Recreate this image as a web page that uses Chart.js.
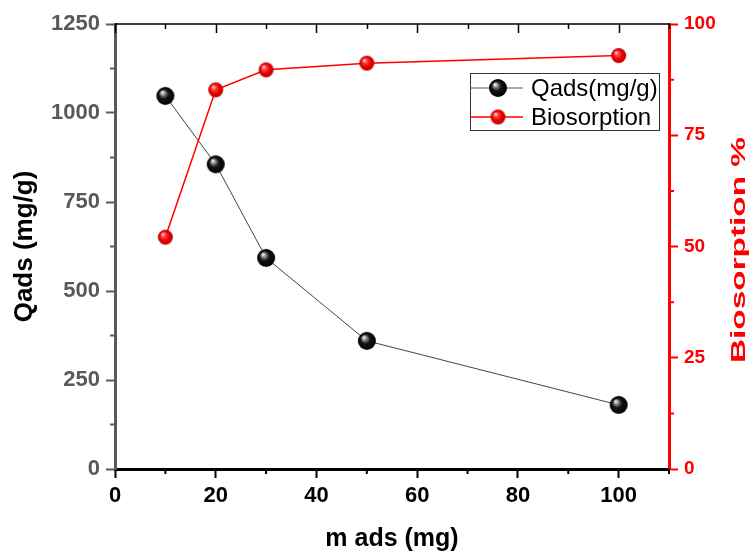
<!DOCTYPE html>
<html>
<head>
<meta charset="utf-8">
<script src="https://cdn.jsdelivr.net/npm/chart.js@4"></script>
<style>
  html, body { margin: 0; padding: 0; background: #fff; }
  #wrap { width: 749px; height: 552px; }
</style>
</head>
<body>
<div id="wrap"><canvas id="chart" width="749" height="552"></canvas></div>
<script>
const massAds = [10, 20, 30, 50, 100];
const qads = [1048, 856, 593, 360, 180];
const biosorption = [52.1, 85.2, 89.7, 91.2, 92.9];

const FONT = 'Liberation Sans, Arial, sans-serif';
const GRAY = '#595959';
const RED = '#ff0000';

// shaded ball used as marker
function sphere(r, stops) {
    const c = document.createElement('canvas');
    c.width = c.height = 2 * r + 2;
    const g = c.getContext('2d');
    const cx = r + 1, cy = r + 1;
    const grad = g.createRadialGradient(cx - r * 0.35, cy - r * 0.4, r * 0.05, cx, cy, r);
    stops.forEach(s => grad.addColorStop(s[0], s[1]));
    g.fillStyle = grad;
    g.beginPath();
    g.arc(cx, cy, r, 0, Math.PI * 2);
    g.fill();
    return c;
}
const blackBall = sphere(9, [[0, '#f4f4f4'], [0.22, '#8a8a8a'], [0.5, '#151515'], [1, '#000']]);
const redBall = sphere(7.5, [[0, '#ffe4e4'], [0.25, '#ff4a4a'], [0.6, '#f00000'], [1, '#b80000']]);

const extras = {
    id: 'extras',
    afterDraw(chart) {
        const { ctx, chartArea: a, scales } = chart;
        const x = scales.x, y = scales.y, y1 = scales.y1;
        ctx.save();
        // top frame with inward ticks
        ctx.strokeStyle = '#000';
        ctx.lineWidth = 1.5;
        ctx.beginPath();
        ctx.moveTo(a.left, a.top);
        ctx.lineTo(a.right, a.top);
        for (let v = 0; v <= 110; v += 10) {
            const px = Math.round(x.getPixelForValue(v)) + 0.5;
            ctx.moveTo(px, a.top);
            ctx.lineTo(px, a.top + (v % 20 === 0 ? 9 : 5));
        }
        ctx.stroke();
        // minor ticks
        ctx.lineWidth = 2;
        ctx.beginPath();
        for (let v = 10; v <= 110; v += 20) {
            const px = x.getPixelForValue(v);
            ctx.moveTo(px, a.bottom);
            ctx.lineTo(px, a.bottom + 5);
        }
        ctx.stroke();
        ctx.strokeStyle = GRAY;
        ctx.beginPath();
        for (let v = 125; v < 1250; v += 250) {
            const py = y.getPixelForValue(v);
            ctx.moveTo(a.left, py);
            ctx.lineTo(a.left - 5, py);
        }
        ctx.stroke();
        ctx.strokeStyle = RED;
        ctx.beginPath();
        for (let v = 12.5; v < 100; v += 25) {
            const py = y1.getPixelForValue(v);
            ctx.moveTo(a.right, py);
            ctx.lineTo(a.right + 5, py);
        }
        ctx.stroke();

        // right title, reads bottom to top, stretched like the original
        ctx.fillStyle = RED;
        ctx.font = 'bold 20px ' + FONT;
        ctx.textAlign = 'center';
        ctx.textBaseline = 'alphabetic';
        const t = 'Biosorption %';
        const w = ctx.measureText(t).width;
        ctx.translate(745, 250);
        ctx.rotate(-Math.PI / 2);
        ctx.scale(226 / w, 1);
        ctx.fillText(t, 0, 0);
        ctx.restore();

        // legend
        ctx.save();
        const lx = 470, ly = 73, lw = 189, lh = 57;
        ctx.fillStyle = '#fff';
        ctx.fillRect(lx, ly, lw, lh);
        ctx.strokeStyle = '#333';
        ctx.lineWidth = 1;
        ctx.strokeRect(lx + 0.5, ly + 0.5, lw, lh);
        const rows = [
            { label: chart.data.datasets[0].label, color: '#555', img: blackBall, yy: 88 },
            { label: chart.data.datasets[1].label, color: RED, img: redBall, yy: 117 }
        ];
        ctx.font = '24px ' + FONT;
        ctx.textBaseline = 'middle';
        ctx.textAlign = 'left';
        rows.forEach(r => {
            ctx.strokeStyle = r.color;
            ctx.lineWidth = r.color === RED ? 1.5 : 1;
            ctx.beginPath();
            ctx.moveTo(lx, r.yy);
            ctx.lineTo(lx + 53, r.yy);
            ctx.stroke();
            ctx.drawImage(r.img, lx + 28 - r.img.width / 2, r.yy - r.img.height / 2);
            ctx.fillStyle = '#000';
            ctx.fillText(r.label, lx + 61, r.yy + 1);
        });
        ctx.restore();
    }
};

const plain = v => String(v);

new Chart(document.getElementById('chart'), {
    type: 'line',
    data: {
        datasets: [
            {
                label: 'Qads(mg/g)',
                data: massAds.map((m, i) => ({ x: m, y: qads[i] })),
                yAxisID: 'y',
                borderColor: '#444',
                borderWidth: 1,
                pointStyle: blackBall,
                order: 1
            },
            {
                label: 'Biosorption',
                data: massAds.map((m, i) => ({ x: m, y: biosorption[i] })),
                yAxisID: 'y1',
                borderColor: RED,
                borderWidth: 1.5,
                pointStyle: redBall,
                order: 0
            }
        ]
    },
    options: {
        responsive: false,
        animation: false,
        layout: { padding: { top: 24, right: 0, left: 0, bottom: 0 } },
        plugins: { legend: { display: false }, tooltip: { enabled: false } },
        scales: {
            x: {
                type: 'linear',
                min: 0,
                max: 110,
                afterFit: s => { s.height = 83; },
                ticks: { stepSize: 20, includeBounds: false, color: '#000', padding: 5,
                    callback: plain,
                    font: { family: FONT, size: 22, weight: 'bold' }, maxRotation: 0 },
                grid: { drawOnChartArea: false, tickLength: 9, tickWidth: 2, tickColor: '#000' },
                border: { color: '#000', width: 3 },
                title: { display: true, text: 'm ads (mg)', color: '#000',
                    font: { family: FONT, size: 25, weight: 'bold', lineHeight: 1 },
                    padding: { top: 3, bottom: 0 } }
            },
            y: {
                position: 'left',
                min: 0,
                max: 1250,
                afterFit: s => { s.width = 115; },
                ticks: { stepSize: 250, color: GRAY, padding: 6, callback: plain,
                    font: { family: FONT, size: 22, weight: 'bold' } },
                grid: { drawOnChartArea: false, tickLength: 9, tickWidth: 2, tickColor: GRAY },
                border: { color: GRAY, width: 3 },
                title: { display: true, text: 'Qads (mg/g)', color: '#000',
                    font: { family: FONT, size: 26, weight: 'bold', lineHeight: 1 },
                    padding: { top: 12, bottom: 0 } }
            },
            y1: {
                position: 'right',
                min: 0,
                max: 100,
                afterFit: s => { s.width = 80; },
                ticks: { stepSize: 25, color: RED, padding: 6, callback: plain,
                    font: { family: FONT, size: 19, weight: 'bold' } },
                grid: { drawOnChartArea: false, tickLength: 9, tickWidth: 2, tickColor: RED },
                border: { color: RED, width: 3 }
            }
        }
    },
    plugins: [extras]
});
</script>
</body>
</html>
